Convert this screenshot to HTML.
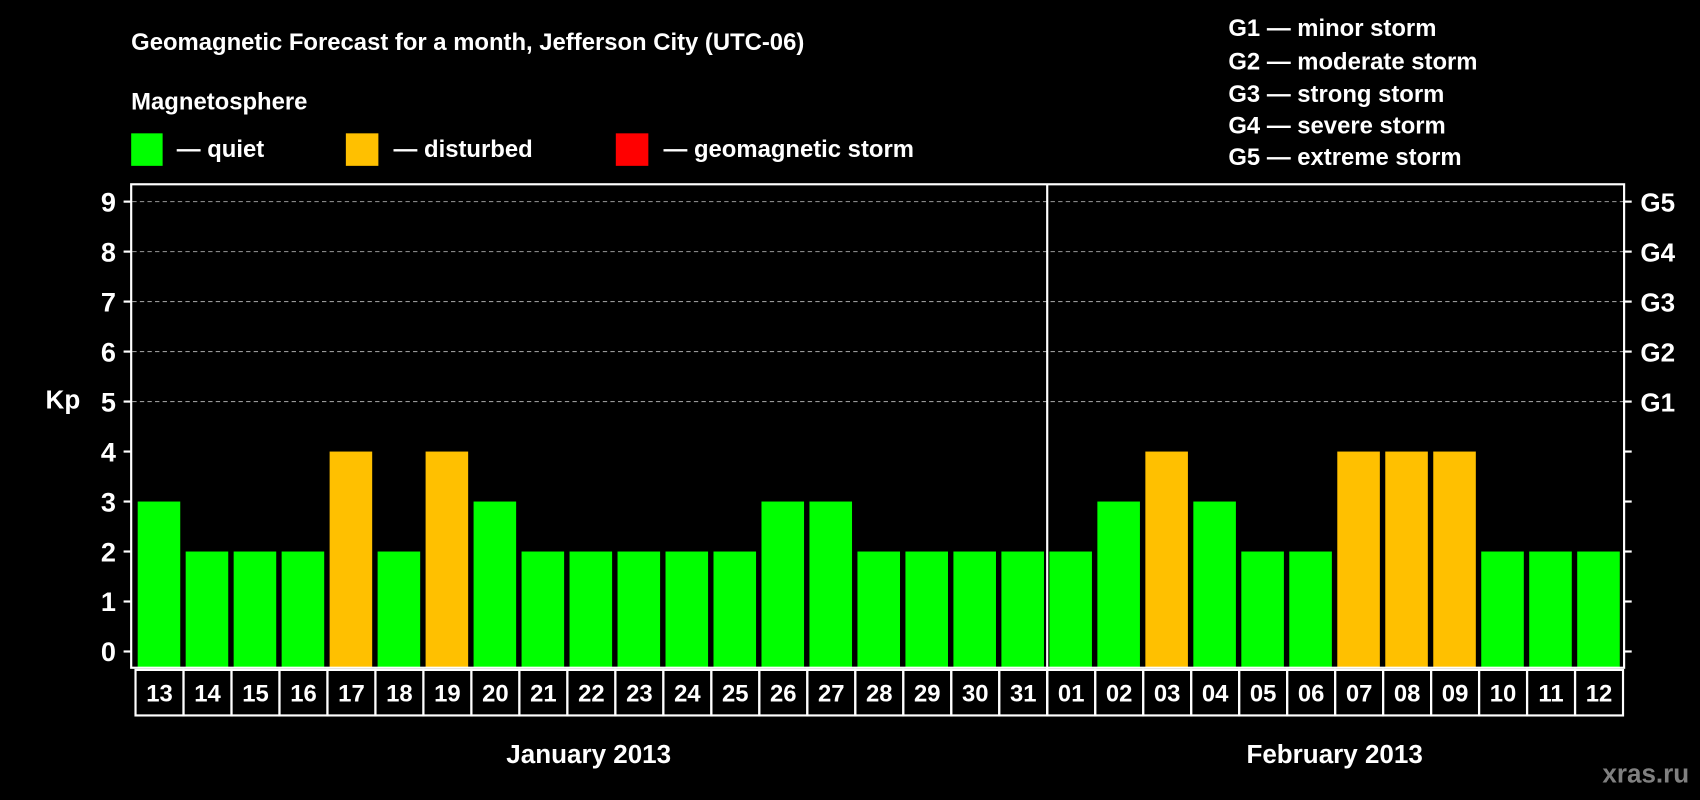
<!DOCTYPE html>
<html><head><meta charset="utf-8"><style>
html,body{margin:0;padding:0;background:#000;}
svg{display:block;font-family:"Liberation Sans",Arial,sans-serif;font-weight:bold;}
</style></head><body>
<svg id="chart" width="1700" height="800" viewBox="0 0 1568 738" preserveAspectRatio="none" xmlns="http://www.w3.org/2000/svg">
<rect x="0" y="0" width="1568" height="738" fill="#000"/>
<text x="121" y="46" fill="#fff" font-size="22">Geomagnetic Forecast for a month, Jefferson City (UTC-06)</text>
<text x="121" y="101" fill="#fff" font-size="22">Magnetosphere</text>
<g>
<rect x="121" y="123" width="29" height="30" fill="#00ff00"/>
<text x="163" y="145" fill="#fff" font-size="22">— quiet</text></g>
<g>
<rect x="319" y="123" width="30" height="30" fill="#ffc000"/>
<text x="363" y="145" fill="#fff" font-size="22">— disturbed</text></g>
<g>
<rect x="568" y="123" width="30" height="30" fill="#ff0000"/>
<text x="612" y="145" fill="#fff" font-size="22">— geomagnetic storm</text></g>
<g fill="#fff" font-size="22">
<text x="1133" y="33">G1 — minor storm</text>
<text x="1133" y="64">G2 — moderate storm</text>
<text x="1133" y="94">G3 — strong storm</text>
<text x="1133" y="123">G4 — severe storm</text>
<text x="1133" y="152">G5 — extreme storm</text>
</g>
<text x="58" y="377" fill="#fff" font-size="24" text-anchor="middle">Kp</text>
<g id="grid"></g>
<g id="bars"></g>
<rect x="121" y="170" width="1377" height="446" fill="none" stroke="#fff" stroke-width="2"/>
<g id="axes"></g>
<g id="xlabels"></g>
<text x="543" y="704" fill="#fff" font-size="24" text-anchor="middle">January 2013</text>
<text x="1231" y="704" fill="#fff" font-size="24" text-anchor="middle">February 2013</text>
<text x="1558" y="722" fill="#808080" font-size="24" text-anchor="end">xras.ru</text>
</svg>
<script>
const days = ["13","14","15","16","17","18","19","20","21","22","23","24","25","26","27","28","29","30","31","01","02","03","04","05","06","07","08","09","10","11","12"];
const kp = [3,2,2,2,4,2,4,3,2,2,2,2,2,3,3,2,2,2,2,2,3,4,3,2,2,4,4,4,2,2,2];
const yTicks = ["0","1","2","3","4","5","6","7","8","9"];
const gLabels = ["G1","G2","G3","G4","G5"];
const monthSplitIndex = 19;

const NS = "http://www.w3.org/2000/svg";
const y0 = 601, unit = (601-186)/9;
const cellX0 = 125, cellW = 1372/31;
function yScale(v){ return y0 - v*unit; }
function xCell(i){ return cellX0 + i*cellW; }
function mk(tag, attrs, parent){ const e=document.createElementNS(NS,tag); for(const k in attrs) e.setAttribute(k,attrs[k]); parent.appendChild(e); return e; }

const grid=document.getElementById('grid'), axes=document.getElementById('axes'), bars=document.getElementById('bars'), xl=document.getElementById('xlabels');
yTicks.forEach((t,i)=>{
  const v=+t, y=yScale(v);
  if(v>=5){
    const g=mk('line',{x1:122,x2:1497,y1:y,y2:y,stroke:'#999','stroke-width':1,'stroke-dasharray':'4,3'},grid);
    
    
  }
  const tk=mk('line',{x1:114,x2:121,y1:y,y2:y,stroke:'#fff','stroke-width':2},axes);
  
  
  const tr=mk('line',{x1:1498,x2:1505,y1:y,y2:y,stroke:'#fff','stroke-width':2},axes);
  
  
  const lb=mk('text',{x:107,y:y+9,fill:'#fff','font-size':25,'text-anchor':'end'},axes);
  lb.textContent=t;
  
  
});
gLabels.forEach((g,i)=>{
  const lb=mk('text',{x:1513,y:yScale(5+i)+9,fill:'#fff','font-size':24},axes);
  lb.textContent=g;
  
  
});
const dv=mk('line',{x1:xCell(monthSplitIndex),x2:xCell(monthSplitIndex),y1:170,y2:660,stroke:'#fff','stroke-width':2},axes);



kp.forEach((v,i)=>{
  const color = v>=5 ? '#ff0000' : (v>=4 ? '#ffc000' : '#00ff00');
  const r=mk('rect',{x:xCell(i)+2,y:yScale(v),width:cellW-5,height:616-yScale(v),fill:color},bars);
  
  
});
days.forEach((d,i)=>{
  const c=mk('rect',{x:xCell(i),y:618,width:cellW,height:42,fill:'none',stroke:'#fff','stroke-width':2},xl);
  
  
  const t=mk('text',{x:xCell(i)+cellW/2,y:647,fill:'#fff','font-size':22,'text-anchor':'middle'},xl);
  t.textContent=d;
  
  
});
</script>
</body></html>
